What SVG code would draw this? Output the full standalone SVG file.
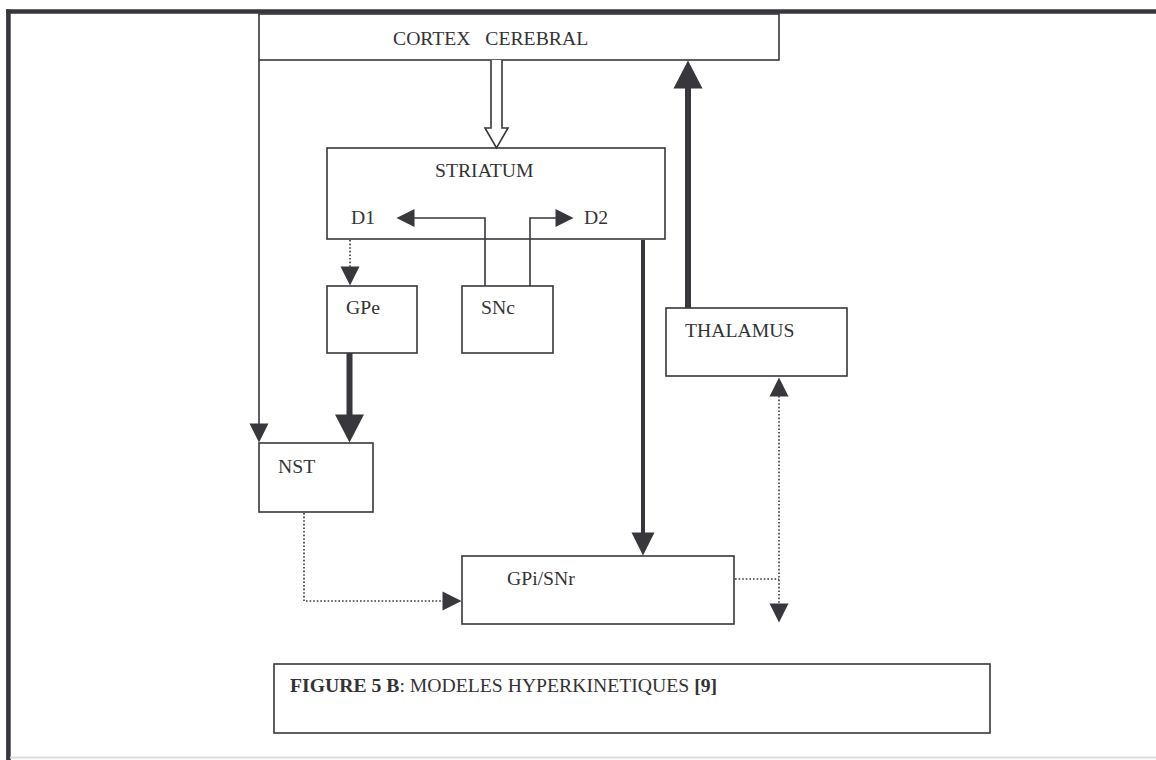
<svg xmlns="http://www.w3.org/2000/svg" width="1156" height="760" viewBox="0 0 1156 760">
<style>
.box{fill:#fff;stroke:#37373c;stroke-width:1.6}
.lbl{font-family:"Liberation Serif","Times New Roman",serif;font-size:19.7px;fill:#333}
.thin{fill:none;stroke:#37373c;stroke-width:1.6}
.dot{fill:none;stroke:#37373c;stroke-width:1.6;stroke-dasharray:1.6 2}
.frame{stroke:#37373c;fill:none}
</style>
<defs>
<marker id="ah19" markerUnits="userSpaceOnUse" markerWidth="20" markerHeight="20" refX="0.5" refY="9.5" orient="auto-start-reverse" overflow="visible"><path d="M0,0 L19,9.5 L0,19 z" fill="#37373c"/></marker>
<marker id="ah18" markerUnits="userSpaceOnUse" markerWidth="19" markerHeight="19" refX="0.5" refY="9" orient="auto" overflow="visible"><path d="M0,0 L18,9 L0,18 z" fill="#37373c"/></marker>
<marker id="ah23" markerUnits="userSpaceOnUse" markerWidth="24" markerHeight="24" refX="0.5" refY="11.5" orient="auto" overflow="visible"><path d="M0,0 L23,11.5 L0,23 z" fill="#37373c"/></marker>
<marker id="ah28" markerUnits="userSpaceOnUse" markerWidth="29" markerHeight="30" refX="0.5" refY="14.5" orient="auto" overflow="visible"><path d="M0,0 L28,14.5 L0,29 z" fill="#37373c"/></marker>
</defs>
<rect width="1156" height="760" fill="#fff"/>
<g id="frame">
<line class="frame" x1="6" y1="11.5" x2="1156" y2="11.5" stroke-width="4.6"/>
<line class="frame" x1="8.4" y1="9.5" x2="8.4" y2="760" stroke-width="4.6"/>
<line x1="10" y1="757.5" x2="1156" y2="757.5" stroke="#dcdcdc" stroke-width="2"/>
</g>
<g id="cortex">
<rect class="box" x="259" y="14" width="520" height="46"/>
<text class="lbl" x="393" y="45" xml:space="preserve">CORTEX   CEREBRAL</text>
</g>
<g id="striatum">
<rect class="box" x="327" y="148" width="338" height="91"/>
<text class="lbl" x="435" y="177">STRIATUM</text>
<text class="lbl" x="351" y="224">D1</text>
<text class="lbl" x="584" y="224">D2</text>
</g>
<g id="gpe">
<rect class="box" x="327" y="286" width="90" height="67"/>
<text class="lbl" x="346" y="314">GPe</text>
</g>
<g id="snc">
<rect class="box" x="462" y="286" width="91" height="67"/>
<text class="lbl" x="481" y="314">SNc</text>
</g>
<g id="thalamus">
<rect class="box" x="666" y="308" width="181" height="68"/>
<text class="lbl" x="685" y="337">THALAMUS</text>
</g>
<g id="nst">
<rect class="box" x="259" y="443" width="114" height="69"/>
<text class="lbl" x="278" y="473">NST</text>
</g>
<g id="gpi">
<rect class="box" x="462" y="556" width="272" height="68"/>
<text class="lbl" x="507" y="585">GPi/SNr</text>
</g>
<g id="caption">
<rect class="box" x="274" y="664" width="716" height="69"/>
<text class="lbl" x="290" y="692"><tspan font-weight="bold">FIGURE 5 B</tspan>: MODELES HYPERKINETIQUES <tspan font-weight="bold">[9]</tspan></text>
</g>
<g id="connectors">
<path d="M491,60 V128 H485 L496.5,148 L508,128 H502 V60" fill="#fff" stroke="#37373c" stroke-width="1.6"/>
<line x1="688" y1="308" x2="688" y2="88" stroke="#37373c" stroke-width="6" marker-end="url(#ah28)"/>
<line x1="643" y1="240" x2="643" y2="533" stroke="#37373c" stroke-width="4" marker-end="url(#ah23)"/>
<line x1="349.5" y1="353" x2="349.5" y2="415" stroke="#37373c" stroke-width="6" marker-end="url(#ah28)"/>
<line class="thin" x1="259" y1="60" x2="259" y2="424" marker-end="url(#ah19)"/>
<path class="thin" d="M485,286 V218 H414" marker-end="url(#ah18)"/>
<path class="thin" d="M530,286 V218 H556" marker-end="url(#ah18)"/>
<path class="dot" d="M350,240 V267" marker-end="url(#ah19)"/>
<path class="dot" d="M304,513 V601 H443" marker-end="url(#ah19)"/>
<path class="dot" d="M735,579 H779"/>
<path class="dot" d="M779,396 V604" marker-start="url(#ah19)" marker-end="url(#ah19)"/>
</g>
</svg>
